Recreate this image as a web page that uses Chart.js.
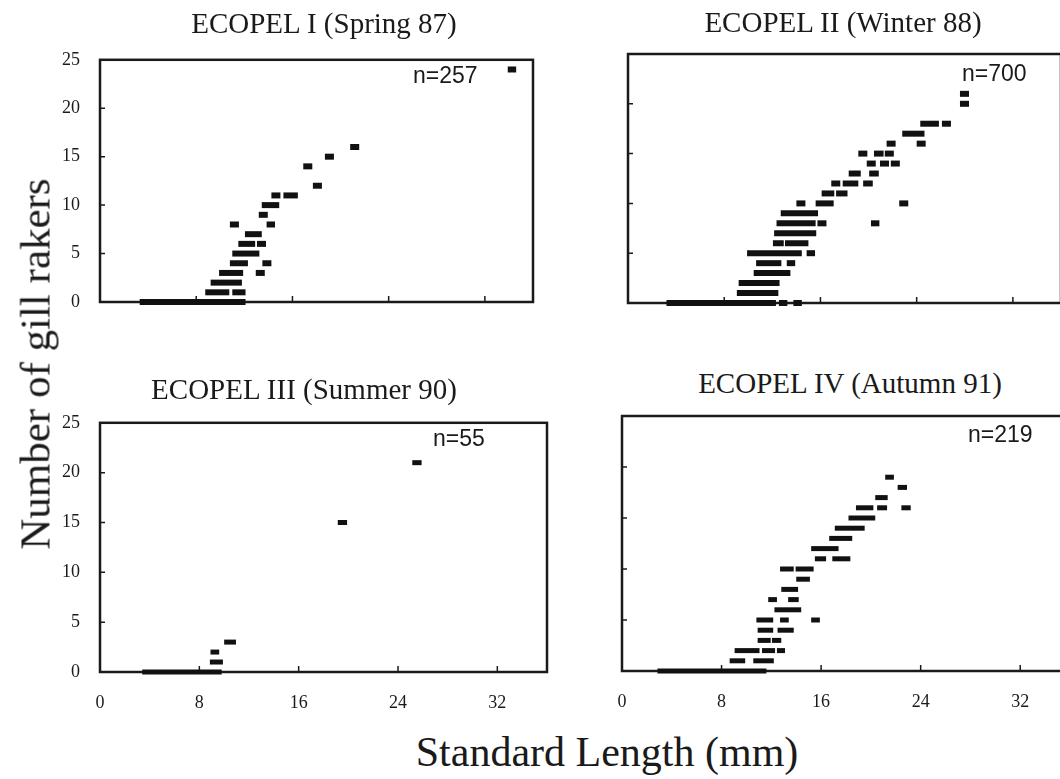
<!DOCTYPE html>
<html>
<head>
<meta charset="utf-8">
<script src="https://cdn.jsdelivr.net/npm/chart.js@4.4.0/dist/chart.umd.min.js"></script>
<style>
  html, body { margin: 0; padding: 0; background: #fff; overflow: hidden; }
  body { width: 1060px; height: 779px; position: relative; }
  canvas { position: absolute; }
  .title { position: absolute; font-family: "Liberation Serif", "Times New Roman", serif; font-size: 29px; line-height: 29px; color: #1a1a1a; white-space: nowrap; transform: translateX(-50%); }
  .count { position: absolute; font-family: "Liberation Sans", Arial, sans-serif; font-size: 23px; line-height: 23px; color: #1a1a1a; white-space: nowrap; }
  .axis-title { position: absolute; font-family: "Liberation Serif", "Times New Roman", serif; line-height: 1; color: #1a1a1a; white-space: nowrap; }
</style>
</head>
<body>
<canvas id="panel0"></canvas>
<canvas id="panel1"></canvas>
<canvas id="panel2"></canvas>
<canvas id="panel3"></canvas>
<div class="axis-title" id="yTitle">Number of gill rakers</div>
<div class="axis-title" id="xTitle">Standard Length (mm)</div>
<script>
const panelTitles = ['ECOPEL I (Spring 87)', 'ECOPEL II (Winter 88)', 'ECOPEL III (Summer 90)', 'ECOPEL IV (Autumn 91)'];
const sampleSizes = [257, 700, 55, 219];
const xTickValues = [0, 8, 16, 24, 32];
const yTickValues = [0, 5, 10, 15, 20, 25];

// rows of fish: [gill rakers, SL from, SL to] in mm
const spring87 = [
  [0, 3.3, 12.1],
  [1, 8.75, 10.75], [1, 11.0, 12.1],
  [2, 9.2, 11.8],
  [3, 9.9, 11.9], [3, 12.95, 13.7],
  [4, 10.8, 12.3], [4, 13.5, 14.25],
  [5, 11.0, 13.25],
  [6, 11.5, 12.9], [6, 13.05, 13.8],
  [7, 12.05, 13.45],
  [8, 10.8, 11.55], [8, 13.85, 14.55],
  [9, 13.2, 13.95],
  [10, 13.45, 14.9],
  [11, 14.25, 15.0], [11, 15.25, 16.45],
  [12, 17.7, 18.45],
  [14, 16.9, 17.65],
  [15, 18.7, 19.45],
  [16, 20.8, 21.55],
  [24, 33.9, 34.6]
];

const winter88 = [
  [0, 3.2, 12.3], [0, 12.55, 13.25], [0, 13.75, 14.45],
  [1, 9.05, 12.5],
  [2, 9.2, 12.6],
  [3, 10.45, 13.5],
  [4, 10.65, 12.75], [4, 13.2, 13.9],
  [5, 9.9, 14.45], [5, 14.85, 15.55],
  [6, 12.05, 12.95], [6, 13.05, 15.0],
  [7, 12.15, 15.65],
  [8, 12.35, 15.6], [8, 15.75, 16.5], [8, 20.2, 20.9],
  [9, 12.7, 15.8],
  [10, 14.0, 14.75], [10, 15.6, 17.1], [10, 22.55, 23.3],
  [11, 16.1, 17.15], [11, 17.3, 18.25],
  [12, 16.9, 17.65], [12, 17.85, 19.15], [12, 19.55, 20.35],
  [13, 18.35, 19.35], [13, 20.05, 20.85],
  [14, 19.85, 20.6], [14, 20.95, 21.7], [14, 21.85, 22.6],
  [15, 19.15, 19.9], [15, 20.45, 21.25], [15, 21.35, 22.1],
  [16, 21.5, 22.25], [16, 24.0, 24.75],
  [17, 22.8, 24.65],
  [18, 24.3, 25.85], [18, 26.1, 26.85],
  [20, 27.6, 28.35],
  [21, 27.6, 28.35]
];

const summer90 = [
  [0, 3.4, 9.8],
  [1, 8.85, 9.9],
  [2, 8.9, 9.6],
  [3, 10.0, 10.95],
  [15, 19.15, 19.9],
  [21, 25.15, 25.9]
];

const autumn91 = [
  [0, 2.85, 11.6],
  [1, 8.65, 9.9], [1, 10.55, 12.2],
  [2, 9.05, 11.05], [2, 11.25, 12.3], [2, 12.45, 13.1],
  [3, 10.9, 11.95], [3, 12.05, 12.8],
  [4, 10.9, 12.15], [4, 12.5, 13.8],
  [5, 10.8, 12.15], [5, 12.7, 13.4], [5, 15.2, 15.9],
  [6, 12.25, 14.4],
  [7, 11.75, 12.45], [7, 13.35, 14.2],
  [8, 12.8, 14.15],
  [9, 14.0, 15.1],
  [10, 12.7, 13.8], [10, 13.95, 15.4],
  [11, 15.5, 16.4], [11, 16.9, 18.35],
  [12, 15.2, 17.4],
  [13, 16.65, 18.5],
  [14, 17.1, 19.5],
  [15, 18.2, 20.35],
  [16, 18.8, 20.2], [16, 20.5, 21.3], [16, 22.45, 23.2],
  [17, 20.35, 21.35],
  [18, 22.15, 22.9],
  [19, 21.15, 21.85]
];

const panelRows = [spring87, winter88, summer90, autumn91];

// plot box of each panel on the page
const panelBoxes = [
  { left: 100, top: 52, right: 533, bottom: 302, showX: false, showY: true, bar: 6 },
  { left: 628, top: 54, right: 1061, bottom: 303, showX: false, showY: false, bar: 6 },
  { left: 100, top: 415, right: 547, bottom: 672, showX: true, showY: true, bar: 5 },
  { left: 622, top: 416, right: 1070, bottom: 671, showX: true, showY: false, bar: 5 }
];
const titlePos = [[324, 33], [843, 32], [304, 399], [850, 393]];
const countPos = [[413, 83], [962, 81], [433, 446], [968, 442]];

const AXIS_W = 60, AXIS_H = 45, PAD_T = 15, PAD_R = 15;
const ink = '#1a1a1a';

// box round the plot and the small inward tick marks
const frameTicks = {
  id: 'frameTicks',
  beforeDatasetsDraw(chart) {
    const { ctx, chartArea: a, scales } = chart;
    ctx.save();
    ctx.strokeStyle = ink;
    ctx.lineWidth = 1.5;
    ctx.beginPath();
    scales.x.ticks.forEach(t => {
      const px = scales.x.getPixelForValue(t.value);
      ctx.moveTo(px, a.bottom);
      ctx.lineTo(px, a.bottom - 6);
    });
    scales.y.ticks.forEach(t => {
      const py = scales.y.getPixelForValue(t.value);
      ctx.moveTo(a.left, py);
      ctx.lineTo(a.left + 5, py);
    });
    ctx.stroke();
    ctx.lineWidth = 2.5;
    ctx.strokeRect(a.left, a.top, a.right - a.left, a.bottom - a.top);
    ctx.restore();
  }
};

function makePanel(i) {
  const box = panelBoxes[i];
  const canvas = document.getElementById('panel' + i);
  const w = box.right - box.left + AXIS_W + PAD_R;
  const h = box.bottom - box.top + PAD_T + AXIS_H;
  canvas.width = w;
  canvas.height = h;
  canvas.style.width = w + 'px';
  canvas.style.height = h + 'px';
  canvas.style.left = (box.left - AXIS_W) + 'px';
  canvas.style.top = (box.top - PAD_T) + 'px';

  const datasets = panelRows[i].map(row => ({
    data: [{ x: row[1], y: row[0] }, { x: row[2], y: row[0] }],
    borderColor: '#111',
    borderWidth: box.bar,
    borderCapStyle: 'butt',
    pointRadius: 0,
    clip: false
  }));

  new Chart(canvas, {
    type: 'line',
    data: { datasets },
    options: {
      responsive: false,
      animation: false,
      devicePixelRatio: 1,
      layout: { padding: { top: PAD_T, right: PAD_R, left: 0, bottom: 0 } },
      plugins: { legend: { display: false }, tooltip: { enabled: false } },
      scales: {
        x: {
          type: 'linear', min: 0, max: 36,
          afterBuildTicks: s => { s.ticks = xTickValues.map(v => ({ value: v })); },
          afterFit: s => { s.height = AXIS_H; },
          grid: { display: false },
          border: { display: false },
          ticks: {
            display: box.showX, padding: 12, color: ink,
            font: { family: 'Liberation Serif', size: 18 }
          }
        },
        y: {
          type: 'linear', min: 0, max: 25,
          afterBuildTicks: s => { s.ticks = yTickValues.map(v => ({ value: v })); },
          afterFit: s => { s.width = AXIS_W; },
          grid: { display: false },
          border: { display: false },
          ticks: {
            display: box.showY, padding: 12, color: ink,
            font: { family: 'Liberation Serif', size: 18 }
          }
        }
      }
    },
    plugins: [frameTicks]
  });

  const t = document.createElement('div');
  t.className = 'title';
  t.textContent = panelTitles[i];
  t.style.left = titlePos[i][0] + 'px';
  t.style.top = (titlePos[i][1] - 24.5) + 'px';
  document.body.appendChild(t);

  const n = document.createElement('div');
  n.className = 'count';
  n.textContent = 'n=' + sampleSizes[i];
  n.style.left = countPos[i][0] + 'px';
  n.style.top = (countPos[i][1] - 19.5) + 'px';
  document.body.appendChild(n);
}

for (let i = 0; i < 4; i++) makePanel(i);

const yTitle = document.getElementById('yTitle');
yTitle.style.fontSize = '43px';
yTitle.style.left = '35px';
yTitle.style.top = '364px';
yTitle.style.transform = 'translate(-50%, -50%) rotate(-90deg)';

const xTitle = document.getElementById('xTitle');
xTitle.style.fontSize = '42px';
xTitle.style.left = '607px';
xTitle.style.top = (767 - 36) + 'px';
xTitle.style.transform = 'translateX(-50%)';
</script>
</body>
</html>
